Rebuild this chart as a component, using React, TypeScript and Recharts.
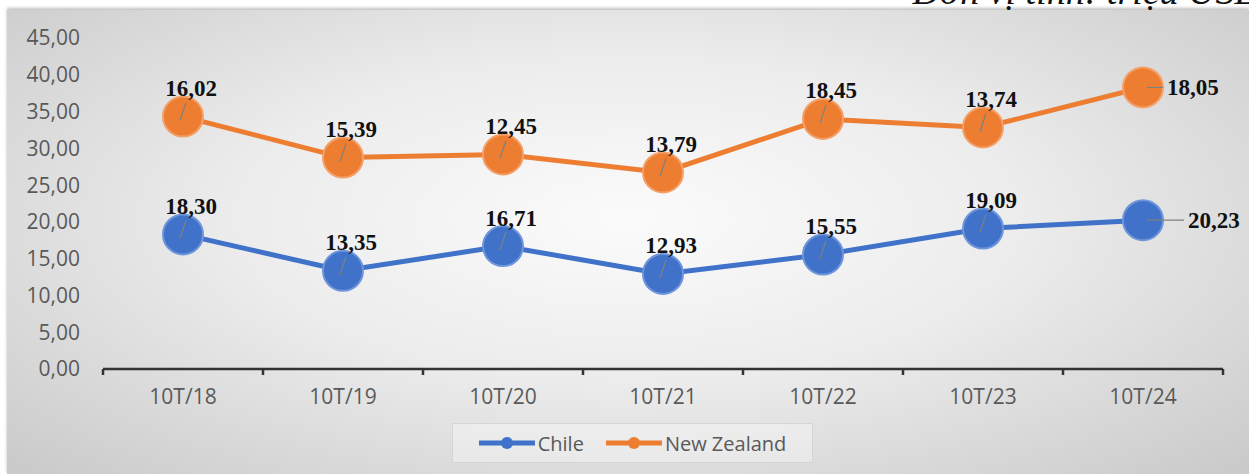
import React from "react";
import { Legend, LabelList, Line, LineChart, XAxis, YAxis } from "recharts";

const categories = ["10T/18", "10T/19", "10T/20", "10T/21", "10T/22", "10T/23", "10T/24"];
const chile = [18.3, 13.35, 16.71, 12.93, 15.55, 19.09, 20.23];
const newZealand = [16.02, 15.39, 12.45, 13.79, 18.45, 13.74, 18.05];
const yTicks = [0, 5, 10, 15, 20, 25, 30, 35, 40, 45];

const BLUE = "#3f72c8";
const ORANGE = "#ed7d31";
const PLOT_W = 1120;

// stacked line: New Zealand sits on top of Chile
const data = categories.map((cat, i) => ({
  cat,
  chile: chile[i],
  nz: newZealand[i],
  nzStack: +(chile[i] + newZealand[i]).toFixed(2),
}));

const fmt = (v: number) => v.toFixed(2).replace(".", ",");

function XTick(props: any) {
  const { x, y, payload, index } = props;
  const half = PLOT_W / categories.length / 2;
  return (
    <g>
      <line x1={x - half} y1={y} x2={x - half} y2={y + 6} stroke="#333" strokeWidth={2.5} />
      {index === categories.length - 1 && (
        <line x1={x + half} y1={y} x2={x + half} y2={y + 6} stroke="#333" strokeWidth={2.5} />
      )}
      <text
        x={x}
        y={y + 27}
        textAnchor="middle"
        dominantBaseline="central"
        fill="#595959"
        fontSize={21}
        fontFamily="'Open Sans', sans-serif"
      >
        {payload.value}
      </text>
    </g>
  );
}

function makeLabel(values: number[], lastOffset: number) {
  return (props: any) => {
    const { x, y, index } = props;
    const text = fmt(values[index]);
    const style = {
      fontFamily: "'Liberation Serif', 'Times New Roman', serif",
      fontWeight: 700,
      fontSize: 23,
      fill: "#111",
    };
    if (index === values.length - 1) {
      return (
        <g>
          <line x1={x + 4} y1={y} x2={x + lastOffset - 4} y2={y} stroke="#808080" strokeWidth={1.2} />
          <text x={x + lastOffset} y={y} dominantBaseline="central" {...style}>
            {text}
          </text>
        </g>
      );
    }
    return (
      <g>
        <line x1={x + 3} y1={y - 14} x2={x - 3} y2={y + 4} stroke="#808080" strokeWidth={1.2} />
        <text x={x + 8} y={y - 28} textAnchor="middle" dominantBaseline="central" {...style}>
          {text}
        </text>
      </g>
    );
  };
}

function LegendBox() {
  const item = (color: string, label: string) => (
    <div style={{ display: "flex", alignItems: "center", marginRight: 22 }}>
      <svg width={56} height={14}>
        <line x1={0} y1={7} x2={56} y2={7} stroke={color} strokeWidth={5} />
        <circle cx={28} cy={7} r={6} fill={color} />
      </svg>
      <span style={{ marginLeft: 3 }}>{label}</span>
    </div>
  );
  return (
    <div
      style={{
        width: 361,
        height: 40,
        boxSizing: "border-box",
        display: "flex",
        alignItems: "center",
        justifyContent: "center",
        paddingLeft: 22,
        background: "rgba(255,255,255,0.35)",
        border: "1px solid rgba(200,200,200,0.6)",
        fontFamily: "'Open Sans', sans-serif",
        fontSize: 20,
        color: "#595959",
      }}
    >
      {item(BLUE, "Chile")}
      {item(ORANGE, "New Zealand")}
    </div>
  );
}

export default function App() {
  return (
    <div style={{ position: "absolute", left: 0, top: 0, width: 1249, height: 474, overflow: "hidden", background: "#fff" }}>
      <div
        style={{
          position: "absolute",
          left: 7,
          top: 10,
          right: 0,
          bottom: 0,
          background: "radial-gradient(ellipse at 50% 45%, #fbfbfb 0%, #ececec 45%, #c9c9c9 100%)",
          boxShadow: "0 -2px 3px rgba(0,0,0,0.25)",
        }}
      />
      <div
        style={{
          position: "absolute",
          right: -13,
          top: -28,
          fontFamily: "'Liberation Serif', 'Times New Roman', serif",
          fontStyle: "italic",
          fontSize: 38,
          lineHeight: 1,
          whiteSpace: "nowrap",
          color: "#111",
        }}
      >
        Đơn vị tính: triệu USD
      </div>
      <div style={{ position: "absolute", left: 0, top: 0 }}>
        <LineChart width={1249} height={474} data={data} margin={{ top: 38, right: 26, bottom: 65, left: 0 }}>
          <XAxis
            dataKey="cat"
            height={40}
            padding={{ left: 80, right: 80 }}
            axisLine={{ stroke: "#333", strokeWidth: 2.5 }}
            tickLine={false}
            tickSize={0}
            tickMargin={0}
            tick={<XTick />}
            interval={0}
          />
          <YAxis
            width={103}
            domain={[0, 45]}
            ticks={yTicks}
            axisLine={false}
            tickLine={false}
            tickSize={0}
            tickMargin={23}
            tickFormatter={fmt}
            tick={{ fill: "#595959", fontSize: 21, fontFamily: "'Open Sans', sans-serif" }}
          />
          <Legend
            verticalAlign="middle"
            align="center"
            layout="horizontal"
            wrapperStyle={{ left: 452, top: 423, width: 361, height: 40 }}
            content={() => <LegendBox />}
          />
          <Line
            type="linear"
            dataKey="chile"
            name="Chile"
            stroke={BLUE}
            strokeWidth={5}
            dot={{ r: 20, fill: BLUE, stroke: "#6f95dc", strokeWidth: 2 }}
            isAnimationActive={false}
          >
            <LabelList dataKey="chile" content={makeLabel(chile, 45)} />
          </Line>
          <Line
            type="linear"
            dataKey="nzStack"
            name="New Zealand"
            stroke={ORANGE}
            strokeWidth={5}
            dot={{ r: 20, fill: ORANGE, stroke: "#f4a06a", strokeWidth: 2 }}
            isAnimationActive={false}
          >
            <LabelList dataKey="nzStack" content={makeLabel(newZealand, 24)} />
          </Line>
        </LineChart>
      </div>
    </div>
  );
}
